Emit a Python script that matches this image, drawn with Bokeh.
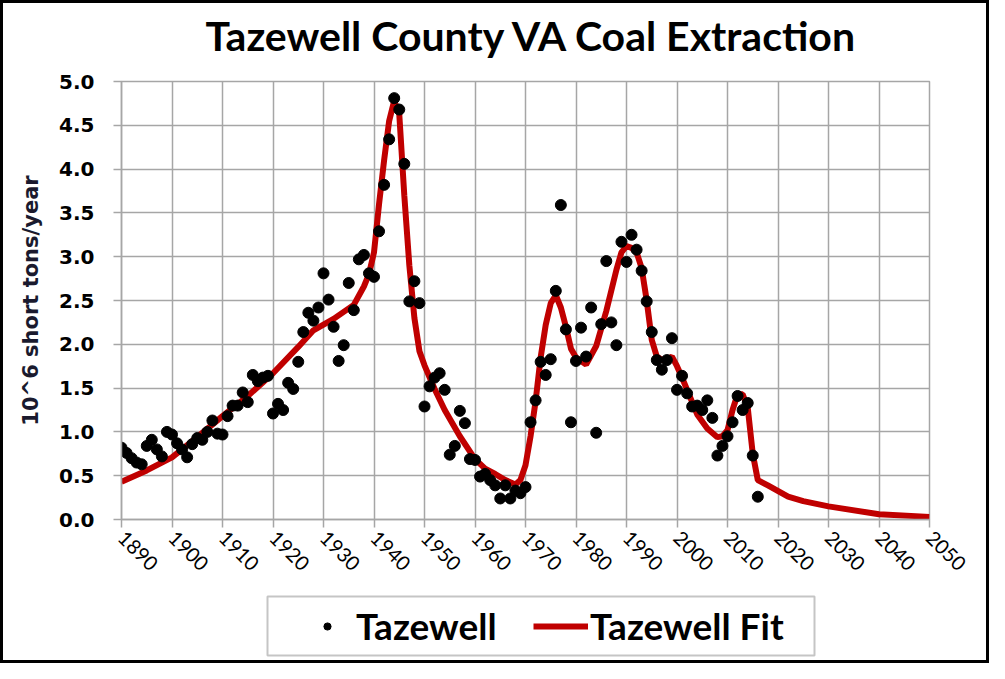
import math
from bokeh.plotting import figure
from bokeh.layouts import column
from bokeh.models import FixedTicker, Legend, LegendItem, PrintfTickFormatter, BoxAnnotation
from bokeh.embed import file_html
from bokeh.resources import INLINE

title_text = "Tazewell County VA Coal Extraction"
y_label = "10^6 short tons/year"
obs_label = "Tazewell"
fit_label = "Tazewell Fit"
x_ticks = [1890, 1900, 1910, 1920, 1930, 1940, 1950, 1960, 1970, 1980,
           1990, 2000, 2010, 2020, 2030, 2040, 2050]
y_ticks = [0.0, 0.5, 1.0, 1.5, 2.0, 2.5, 3.0, 3.5, 4.0, 4.5, 5.0]

obs_years = list(range(1890, 2017))
obs_values = [
    0.82, 0.76, 0.70, 0.65, 0.63, 0.84, 0.91, 0.80, 0.72, 1.00,   # 1890s
    0.97, 0.87, 0.80, 0.71, 0.86, 0.93, 0.91, 1.00, 1.13, 0.98,   # 1900s
    0.97, 1.18, 1.30, 1.30, 1.45, 1.34, 1.65, 1.58, 1.62, 1.64,   # 1910s
    1.21, 1.32, 1.25, 1.56, 1.49, 1.80, 2.14, 2.36, 2.27, 2.42,   # 1920s
    2.81, 2.51, 2.20, 1.81, 1.99, 2.70, 2.39, 2.97, 3.02, 2.81,   # 1930s
    2.77, 3.29, 3.82, 4.34, 4.81, 4.68, 4.06, 2.49, 2.72, 2.47,   # 1940s
    1.29, 1.52, 1.62, 1.67, 1.48, 0.74, 0.84, 1.24, 1.10, 0.69,   # 1950s
    0.68, 0.49, 0.52, 0.45, 0.39, 0.24, 0.39, 0.24, 0.33, 0.30,   # 1960s
    0.37, 1.11, 1.36, 1.80, 1.65, 1.83, 2.61, 3.59, 2.17, 1.11,   # 1970s
    1.81, 2.19, 1.86, 2.42, 0.99, 2.23, 2.95, 2.25, 1.99, 3.17,   # 1980s
    2.94, 3.25, 3.08, 2.84, 2.49, 2.14, 1.82, 1.71, 1.82, 2.07,   # 1990s
    1.48, 1.64, 1.44, 1.29, 1.30, 1.25, 1.36, 1.16, 0.73, 0.84,   # 2000s
    0.95, 1.11, 1.41, 1.25, 1.33, 0.73, 0.26,                     # 2010s
]

fit_years = [1890, 1895, 1900, 1905, 1910, 1915, 1920, 1925, 1928, 1932,
             1936, 1938, 1939, 1940, 1941, 1942, 1943, 1944, 1945, 1946,
             1947, 1948, 1949, 1950, 1952, 1954, 1957, 1960, 1962, 1964,
             1966, 1968, 1969, 1970, 1971, 1972, 1973, 1974, 1975, 1976,
             1977, 1978, 1979, 1980, 1982, 1984, 1986, 1988, 1989, 1990,
             1991, 1992, 1993, 1994, 1995, 1996, 1997, 1998, 1999, 2000,
             2001, 2002, 2004, 2006, 2008, 2009, 2010, 2011, 2012, 2013,
             2014, 2015, 2016, 2018, 2022, 2025, 2030, 2040, 2050]
fit_values = [0.43, 0.56, 0.71, 0.94, 1.18, 1.41, 1.67, 1.97, 2.16, 2.29,
              2.45, 2.66, 2.80, 3.05, 3.60, 4.10, 4.55, 4.78, 4.63, 3.70,
              2.90, 2.30, 1.92, 1.76, 1.49, 1.25, 0.95, 0.69, 0.58, 0.52,
              0.45, 0.40, 0.45, 0.62, 0.95, 1.35, 1.85, 2.22, 2.47, 2.56,
              2.42, 2.20, 1.95, 1.85, 1.77, 1.98, 2.38, 2.85, 3.05, 3.12,
              3.10, 3.05, 2.87, 2.50, 2.05, 1.86, 1.82, 1.83, 1.86, 1.75,
              1.62, 1.48, 1.20, 1.04, 0.94, 0.95, 1.02, 1.25, 1.43, 1.43,
              1.28, 0.75, 0.45, 0.39, 0.26, 0.21, 0.15, 0.06, 0.03]

GRID = "#a6a6a6"
RED = "#c00000"
W = 983
BL, BR = 118, 57   # shared left/right borders of all three strips


def blank_strip(height, top=0, bottom=0):
    f = figure(width=W, height=height, x_range=(0, 1), y_range=(10, 11),
               output_backend="svg", toolbar_location=None,
               x_axis_type=None, y_axis_type=None,
               min_border_left=BL, min_border_right=BR,
               min_border_top=top, min_border_bottom=bottom)
    f.grid.visible = False
    f.outline_line_color = None
    f.background_fill_color = "white"
    f.border_fill_color = "white"
    return f


# ---------------- title strip ----------------
tf = blank_strip(66)
tf.title.text = title_text
tf.title.text_font = "Lato"
tf.title.text_font_size = "41px"
tf.title.text_font_style = "bold"
tf.title.text_color = "black"
tf.title.align = "left"
tf.title.offset = 84
tf.title.standoff = 11

# ---------------- main chart ----------------
p = figure(width=W, height=524, x_range=(1890, 2050), y_range=(0, 5),
           output_backend="svg", toolbar_location=None,
           min_border_left=BL, min_border_right=BR,
           min_border_top=12, min_border_bottom=74)
p.background_fill_color = "white"
p.border_fill_color = "white"
p.outline_line_color = GRID
p.outline_line_width = 1.5

p.xaxis.ticker = FixedTicker(ticks=x_ticks)
p.yaxis.ticker = FixedTicker(ticks=y_ticks)
p.yaxis.formatter = PrintfTickFormatter(format="%.1f")
p.xaxis.major_label_orientation = -math.pi / 4
for ax in (p.xaxis, p.yaxis):
    ax.axis_line_color = GRID
    ax.axis_line_width = 1.5
    ax.major_tick_line_color = GRID
    ax.major_tick_line_width = 1.5
    ax.major_tick_in = 0
    ax.major_tick_out = 8
    ax.minor_tick_line_color = None
    ax.major_label_text_color = "black"
p.xaxis.major_label_text_font = "Lato"
p.xaxis.major_label_text_font_size = "20px"
p.xaxis.major_label_standoff = 7
p.yaxis.major_label_text_font = "DejaVu Sans"
p.yaxis.major_label_text_font_style = "bold"
p.yaxis.major_label_text_font_size = "20px"
p.yaxis.major_label_standoff = 19
p.yaxis.axis_label = y_label
p.yaxis.axis_label_text_font = "DejaVu Sans"
p.yaxis.axis_label_text_font_style = "bold"
p.yaxis.axis_label_text_font_size = "21px"
p.yaxis.axis_label_text_color = "#1a1a2e"
p.yaxis.axis_label_standoff = 13

p.xgrid.grid_line_color = GRID
p.xgrid.grid_line_width = 1.5
p.ygrid.grid_line_color = GRID
p.ygrid.grid_line_width = 1.5

p.line(fit_years, fit_values, line_color=RED, line_width=6)
p.scatter(obs_years, obs_values, size=11, fill_color="black", line_color="black")

# ---------------- legend strip ----------------
lg = blank_strip(67)
lg.add_layout(BoxAnnotation(left=146, right=693, bottom=5, top=64,
                            left_units="screen", right_units="screen",
                            bottom_units="screen", top_units="screen",
                            fill_alpha=0, line_color="#404040", line_width=2))
lg_fit = lg.line(fit_years, fit_values, line_color=RED, line_width=6)
lg_obs = lg.scatter(obs_years, obs_values, size=8, fill_color="black", line_color="black")

leg_style = dict(orientation="horizontal", padding=0, spacing=0, margin=0,
                 glyph_height=44, label_height=44,
                 label_text_font="Lato", label_text_font_style="bold",
                 label_text_font_size="37px", label_text_color="black",
                 border_line_color=None, background_fill_alpha=0)
legend_obs = Legend(items=[LegendItem(label=obs_label, renderers=[lg_obs])],
                    location=(197, 12), glyph_width=18, label_standoff=20,
                    **leg_style)
legend_fit = Legend(items=[LegendItem(label=fit_label, renderers=[lg_fit])],
                    location=(412, 12), glyph_width=55, label_standoff=2,
                    **leg_style)
lg.add_layout(legend_obs)
lg.add_layout(legend_fit)

layout = column(tf, p, lg, spacing=0, styles={"border": "3px solid black"})

open("out.html", "w").write(file_html(layout, INLINE))
